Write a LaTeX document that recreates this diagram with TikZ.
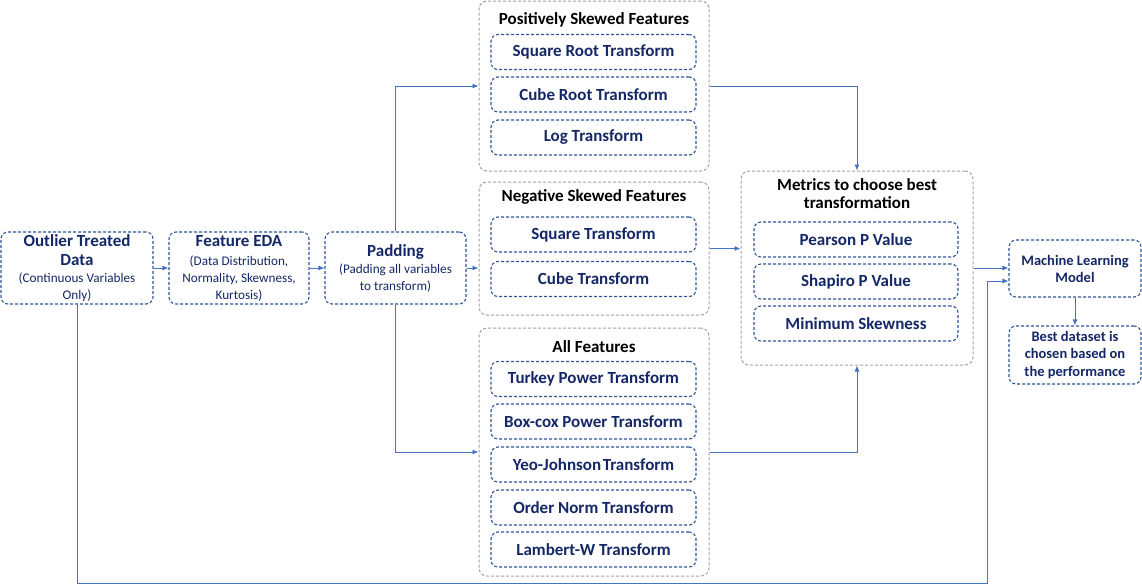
\documentclass[tikz,border=0pt]{standalone}
\usepackage{fontspec}
\setmainfont{Carlito}
\usetikzlibrary{arrows.meta}
\definecolor{navy}{HTML}{142766}
\definecolor{boxblue}{HTML}{2F5597}
\definecolor{grpgrey}{HTML}{A0A0A0}
\definecolor{arr}{HTML}{4472C4}
\newcommand\subtxt{\mdseries\fontsize{13.2}{15}\selectfont}
\tikzset{
 box/.style={draw=boxblue, line width=1.1pt, dash pattern=on 3pt off 2pt, rounded corners=7pt, text=navy, font=\bfseries\fontsize{17}{19}\selectfont, align=center, inner sep=0pt},
 tbox/.style={box, minimum width=205, minimum height=35},
 mbox/.style={box, minimum width=204, minimum height=35},
 grp/.style={draw=grpgrey, line width=1pt, dash pattern=on 3pt off 2pt, rounded corners=8pt, minimum width=230, inner sep=0pt},
 conn/.style={draw=arr, line width=0.9pt, -{Latex[length=6pt,width=5pt]}},
 gtitle/.style={font=\bfseries\fontsize{17}{18}\selectfont, text=black, align=center, inner sep=0pt}
}
\begin{document}
\begin{tikzpicture}[x=1pt,y=-1pt]
\useasboundingbox (0,0) rectangle (1142,584);
% left chain
\node[box, minimum width=152, minimum height=72] (out) at (77,268) {Outlier Treated\\[0pt]Data\\[-2pt]{\subtxt (Continuous Variables}\\[-2pt]{\subtxt Only)}};
\node[box, minimum width=140, minimum height=72] (eda) at (239,268) {Feature EDA\\[0pt]{\subtxt (Data Distribution,}\\[-2pt]{\subtxt Normality, Skewness,}\\[-2pt]{\subtxt Kurtosis)}};
\node[box, minimum width=141, minimum height=72] (pad) at (395.5,268) {Padding\\[-2pt]{\subtxt (Padding all variables}\\[-2pt]{\subtxt to transform)}};
% positive group
\node[grp, minimum height=170] (pos) at (594,86) {};
\node[gtitle] (post) at (594,20) {Positively Skewed Features};
\node[tbox] (sqrt) at (593.5,52) {Square Root Transform};
\node[tbox] (cbrt) at (593.5,94.5) {Cube Root Transform};
\node[tbox] (log) at (593.5,137.5) {Log Transform};
% negative group
\node[grp, minimum height=133] (neg) at (594,248.5) {};
\node[gtitle] (negt) at (594,197) {Negative Skewed Features};
\node[tbox] (sq) at (593.5,234.5) {Square Transform};
\node[tbox] (cb) at (593.5,279) {Cube Transform};
% all group
\node[grp, minimum height=248] (all) at (594,452) {};
\node[gtitle] (allt) at (594,347) {All Features};
\node[tbox] (tuk) at (593.5,379) {Turkey Power Transform};
\node[tbox] (box) at (593.5,421.5) {Box-cox Power Transform};
\node[tbox] (yeo) at (593.5,464.5) {Yeo-Johnson\hspace{1.5pt}Transform};
\node[tbox] (ord) at (593.5,507.5) {Order Norm Transform};
\node[tbox] (lam) at (593.5,549.5) {Lambert-W Transform};
% metrics
\node[grp, minimum width=232, minimum height=194] (met) at (857,268) {};
\node[gtitle] (mett) at (857,194) {Metrics to choose best\\[-0pt]transformation};
\node[mbox] (pea) at (856,239.5) {Pearson P Value};
\node[mbox] (sha) at (856,281.5) {Shapiro P Value};
\node[mbox] (min) at (856,323.5) {Minimum Skewness};
% right
\node[box, minimum width=132, minimum height=57, font=\bfseries\fontsize{14.5}{17}\selectfont] (ml) at (1075,268.5) {Machine Learning\\Model};
\node[box, minimum width=132, minimum height=58, font=\bfseries\fontsize{14.5}{17.5}\selectfont] (best) at (1075,355) {Best dataset is\\chosen based on\\the performance};
% connectors
\coordinate (lowL) at (77,583);
\coordinate (lowR) at (987,583);
\draw[conn] (out.east) -- (eda.west);
\draw[conn] (eda.east) -- (pad.west);
\draw[conn] (pad.east) -- (pad.east -| neg.west);
\draw[conn] (pad.north) |- (pos.west);
\draw[conn] (pad.south) |- (all.west);
\draw[conn] (pos.east) -| (met.north);
\draw[conn] (neg.east) -- (neg.east -| met.west);
\draw[conn] (all.east) -| (met.south);
\draw[conn] (met.east) -- (met.east -| ml.west);
\draw[conn] (out.south) -- (lowL) -- (lowR) |- ([yshift=-12.5pt]ml.west);
\draw[conn] (ml.south) -- (best.north);
\end{tikzpicture}
\end{document}
